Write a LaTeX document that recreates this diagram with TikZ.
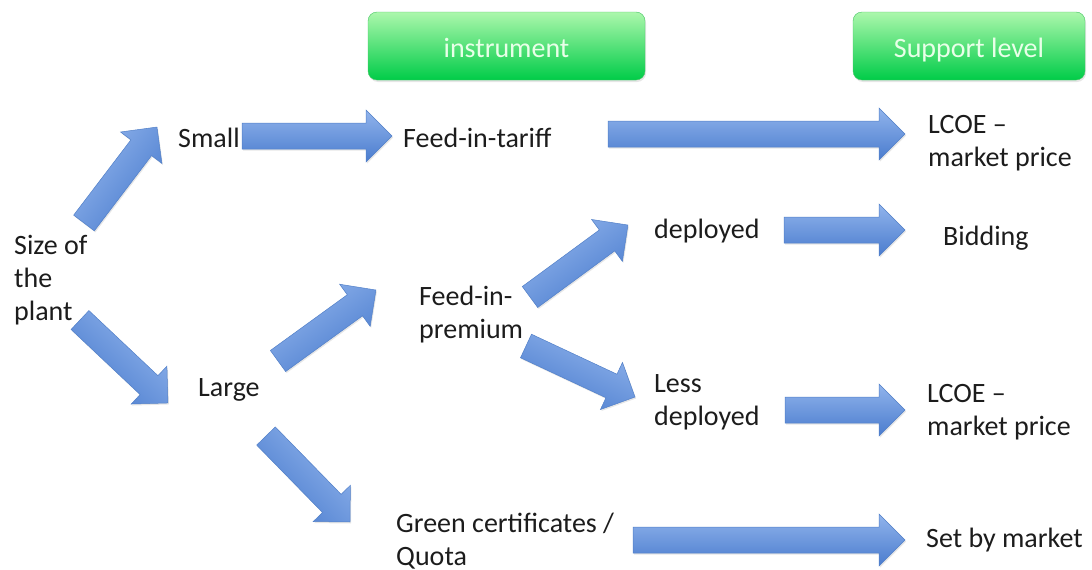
\documentclass[tikz,border=0pt]{standalone}
\usepackage{fontspec}
\setmainfont{Carlito}
\usetikzlibrary{calc,shadows}

\definecolor{arrowtop}{RGB}{145,180,236}
\definecolor{arrowbot}{RGB}{74,124,206}
\definecolor{arrowline}{RGB}{82,128,200}
\definecolor{boxtop}{RGB}{172,247,172}
\definecolor{boxbot}{RGB}{0,204,72}
\definecolor{boxline}{RGB}{70,196,100}
\definecolor{boxtext}{RGB}{232,255,232}
\definecolor{txt}{RGB}{28,28,28}

\tikzset{
  lbl/.style={anchor=base west,inner sep=0pt,align=left,text=txt},
  header/.style={rounded corners=9pt,draw=boxline,top color=boxtop,bottom color=boxbot,
    text=boxtext,text height=22pt,text depth=0pt,minimum height=68pt,
    drop shadow={shadow xshift=1pt,shadow yshift=-2pt,opacity=0.2}},
  blockarrow/.style={draw=arrowline,line width=0.5pt,top color=arrowtop,bottom color=arrowbot,
    drop shadow={shadow xshift=1pt,shadow yshift=-1.5pt,opacity=0.2},
    to path={let \p1=(\tikztostart),\p2=(\tikztotarget),
      \n1={atan2(\y2-\y1,\x2-\x1)},\n2={veclen(\x2-\x1,\y2-\y1)} in
      ([shift={(\p1)},rotate=\n1]0pt,13pt)
      -- ([shift={(\p1)},rotate=\n1]{\n2*1pt-26pt},13pt)
      -- ([shift={(\p1)},rotate=\n1]{\n2*1pt-26pt},26pt)
      -- ([shift={(\p1)},rotate=\n1]{\n2*1pt},0pt)
      -- ([shift={(\p1)},rotate=\n1]{\n2*1pt-26pt},-26pt)
      -- ([shift={(\p1)},rotate=\n1]{\n2*1pt-26pt},-13pt)
      -- ([shift={(\p1)},rotate=\n1]0pt,-13pt) -- cycle}}
}

\begin{document}
\begin{tikzpicture}[x=1pt,y=-1pt,font=\fontsize{28}{33}\selectfont]
    \useasboundingbox (0,0) rectangle (1092,570);
    \node[header,minimum width=277pt] (instr) at (506.5,46) {instrument};
    \node[header,minimum width=232pt] (support) at (969,46) {Support level};

    \node[lbl] (0) at (14,320) {Size of\\the\\plant};
    \node[lbl] (1) at (178,147) {Small};
    \node[lbl] (2) at (198,396) {Large};
    \node[lbl] (3) at (403,147) {Feed-in-tariff};
    \node[lbl] (4) at (419,338) {Feed-in-\\premium};
    \node[lbl] (5) at (396,565) {Green certificates /\\Quota};
    \node[lbl] (6) at (654,238) {deployed};
    \node[lbl] (7) at (654,425) {Less\\deployed};
    \node[lbl] (8) at (928,166) {LCOE –\\market price};
    \node[lbl] (9) at (943,245) {Bidding};
    \node[lbl] (10) at (927,435) {LCOE –\\market price};
    \node[lbl] (11) at (926,547) {Set by market};

    \foreach \i/\ax/\ay/\bx/\by in {1/84/223/157/127, 2/242/136/392/136, 3/608/134/905/134,
        4/80/320/168/403, 5/278/361/376/290, 6/266/436/350/522, 7/530/297/628/225,
        8/526/346/635/397, 9/784/230/905/230, 10/785/410/905/410, 11/633/540/905/540}{
      \coordinate (a\i) at (\ax,\ay);
      \coordinate (b\i) at (\bx,\by);
      \pgfmathsetmacro\ang{atan2(\ay-\by,\bx-\ax)}
      \path[blockarrow,shading angle=\ang] (a\i) to (b\i);
    }
\end{tikzpicture}
\end{document}
